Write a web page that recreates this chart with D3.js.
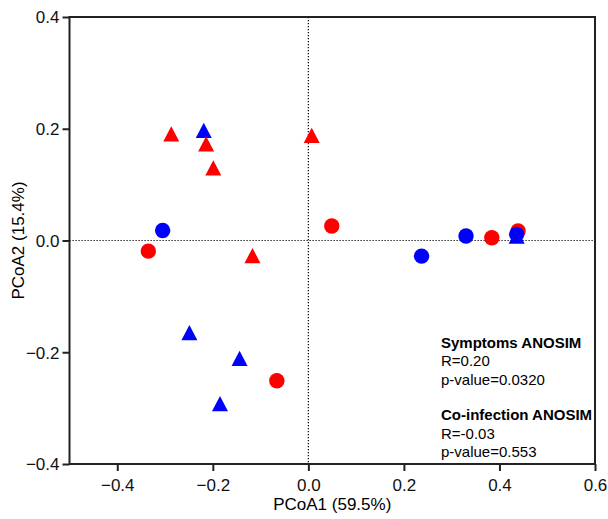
<!DOCTYPE html>
<html>
<head>
<meta charset="utf-8">
<script src="https://cdn.jsdelivr.net/npm/d3@7"></script>
<style>
  body { margin: 0; background: #fff; }
  svg { font-family: "Liberation Sans", Arial, sans-serif; }
</style>
</head>
<body>
<svg id="chart" width="608" height="519"></svg>
<script>
// PCoA coordinates
const redTriangles = [[-0.287, 0.191], [-0.214, 0.173], [-0.199, 0.130], [0.007, 0.188], [-0.117, -0.027]]
const blueTriangles = [[-0.219, 0.197], [-0.249, -0.165], [-0.144, -0.211], [-0.185, -0.292], [0.436, 0.008]]
const redCircles = [[-0.335, -0.019], [0.049, 0.026], [-0.066, -0.251], [0.384, 0.005], [0.439, 0.017]]
const blueCircles = [[-0.305, 0.018], [0.237, -0.028], [0.330, 0.008], [0.436, 0.011]]

const xTicks = [-0.4, -0.2, 0.0, 0.2, 0.4, 0.6]
const yTicks = [-0.4, -0.2, 0.0, 0.2, 0.4]
const symptomsStats = ["Symptoms ANOSIM", "R=0.20", "p-value=0.0320"]
const coinfStats = ["Co-infection ANOSIM", "R=-0.03", "p-value=0.553"]

const margin = {left: 69.5, right: 595, top: 17, bottom: 464}
const svg = d3.select("#chart")

const x = d3.scaleLinear().domain([-0.5, 0.6]).range([margin.left, margin.right])
const y = d3.scaleLinear().domain([-0.4, 0.4]).range([margin.bottom, margin.top])

// zero lines
svg.append("line")
    .attr("x1", x(0)).attr("x2", x(0))
    .attr("y1", margin.top).attr("y2", margin.bottom)
    .attr("stroke", "#000").attr("stroke-width", 1.2)
    .attr("stroke-dasharray", "1.2,1.8")
svg.append("line")
    .attr("x1", margin.left).attr("x2", margin.right)
    .attr("y1", y(0)).attr("y2", y(0))
    .attr("stroke", "#000").attr("stroke-width", 1.2)
    .attr("stroke-dasharray", "1.2,1.8")

// GraphPad-style triangle: centred on its bounding box
const boxTriangle = {
  draw(ctx, size) {
    const w = Math.sqrt(size), h = w * 0.95
    ctx.moveTo(0, -h / 2)
    ctx.lineTo(w / 2, h / 2)
    ctx.lineTo(-w / 2, h / 2)
    ctx.closePath()
  }
}
const tri = d3.symbol().type(boxTriangle).size(256)
const drawTri = (data, colour) => {
  svg.append("g").selectAll("path")
    .data(data)
    .join("path")
      .attr("d", tri)
      .attr("transform", d => `translate(${x(d[0])},${y(d[1])})`)
      .attr("fill", colour)
}
const drawCircle = (data, colour) => {
  svg.append("g").selectAll("circle")
    .data(data)
    .join("circle")
      .attr("cx", d => x(d[0]))
      .attr("cy", d => y(d[1]))
      .attr("r", 7.7)
      .attr("fill", colour)
}
drawTri(blueTriangles, "#0000ff")
drawTri(redTriangles, "#ff0000")
drawCircle(redCircles, "#ff0000")
drawCircle(blueCircles, "#0000ff")

// frame + axes
svg.append("rect")
    .attr("x", margin.left).attr("y", margin.top)
    .attr("width", margin.right - margin.left)
    .attr("height", margin.bottom - margin.top)
    .attr("fill", "none").attr("stroke", "#222").attr("stroke-width", 2)

const xAxis = svg.append("g")
    .attr("transform", `translate(0,${margin.bottom})`)
    .call(d3.axisBottom(x).tickValues(xTicks).tickFormat(d3.format(".1f")).tickSize(7).tickPadding(8))
const yAxis = svg.append("g")
    .attr("transform", `translate(${margin.left},0)`)
    .call(d3.axisLeft(y).tickValues(yTicks).tickFormat(d3.format(".1f")).tickSize(7).tickPadding(3))
for (const ax of [xAxis, yAxis]) {
  ax.select(".domain").remove()
  ax.selectAll(".tick line").attr("stroke", "#222").attr("stroke-width", 2)
  ax.selectAll(".tick text")
      .attr("font-size", 17)
      .attr("font-family", "Liberation Sans, Arial, sans-serif")
      .attr("fill", "#111")
}
yAxis.selectAll(".tick text").attr("dy", "0.35em")

// axis titles
svg.append("text")
    .attr("x", x(0.05)).attr("y", 510)
    .attr("text-anchor", "middle")
    .attr("font-size", 17)
    .text("PCoA1 (59.5%)")
svg.append("text")
    .attr("transform", `translate(24,${y(0)}) rotate(-90)`)
    .attr("text-anchor", "middle")
    .attr("font-size", 17)
    .text("PCoA2 (15.4%)")

// ANOSIM annotations
const drawStats = (lines, top) => {
  svg.append("g").selectAll("text")
    .data(lines)
    .join("text")
      .attr("x", 441)
      .attr("y", (d, i) => top + i * 18.5)
      .attr("font-size", 15)
      .attr("font-weight", (d, i) => i === 0 ? "bold" : "normal")
      .text(d => d)
}
drawStats(symptomsStats, 347.5)
drawStats(coinfStats, 420)
</script>
</body>
</html>
